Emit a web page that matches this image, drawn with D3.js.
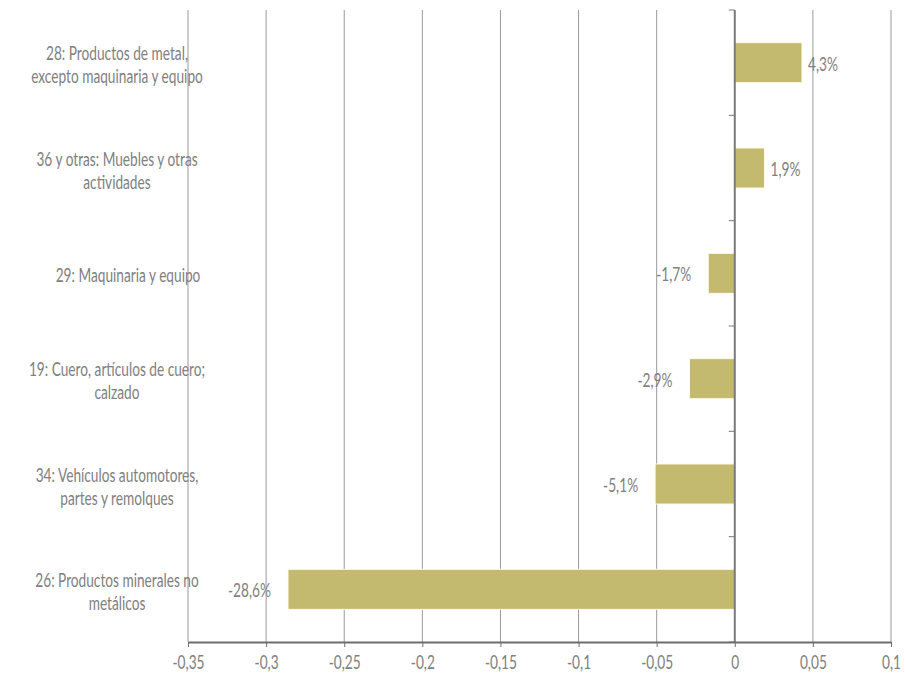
<!DOCTYPE html>
<html><head><meta charset="utf-8">
<script src="https://cdn.jsdelivr.net/npm/d3@7"></script>
<style>
body{margin:0;background:#fff}
text{font-family:"Lato","Roboto",sans-serif;font-weight:400;fill:#808080}
</style>
</head><body>
<svg id="c" width="905" height="677"></svg>
<script>
const labelLines = [
  ["28: Productos de metal,", "excepto maquinaria y equipo"],
  ["36 y otras: Muebles y otras", "actividades"],
  ["29: Maquinaria y equipo"],
  ["19: Cuero, artículos de cuero;", "calzado"],
  ["34: Vehículos automotores,", "partes y remolques"],
  ["26: Productos minerales no", "metálicos"]
];
const categories = labelLines.map(l => l.join(" "));
const values = [0.043, 0.019, -0.017, -0.029, -0.051, -0.286];
const valueLabels = ["4,3%", "1,9%", "-1,7%", "-2,9%", "-5,1%", "-28,6%"];
const xTicks = [-0.35, -0.3, -0.25, -0.2, -0.15, -0.1, -0.05, 0, 0.05, 0.1];
const xTickLabels = ["-0,35", "-0,3", "-0,25", "-0,2", "-0,15", "-0,1", "-0,05", "0", "0,05", "0,1"];

const FS = 19, SX = 0.72;
const svg = d3.select("#c");
const plotTop = 10, plotBottom = 642;
const x = d3.scaleLinear().domain([-0.35, 0.1]).range([188, 891]);
const y = d3.scaleBand().domain(categories).range([plotTop, plotBottom]).paddingInner(0.62).paddingOuter(0.31);

// gridlines
svg.append("g").selectAll("line").data(xTicks.filter(d => d !== 0)).join("line")
  .attr("x1", d => x(d)).attr("x2", d => x(d))
  .attr("y1", plotTop).attr("y2", plotBottom)
  .attr("stroke", "#9a9a9a").attr("stroke-width", 1);

// bars
svg.append("g").selectAll("rect").data(values).join("rect")
  .attr("x", d => x(Math.min(0, d)))
  .attr("width", d => Math.abs(x(d) - x(0)))
  .attr("y", (d, i) => y(categories[i]))
  .attr("height", y.bandwidth())
  .attr("fill", "#c3b96f")
  .attr("stroke", "#fffbe8").attr("stroke-width", 1);

// zero axis
svg.append("line").attr("x1", x(0)).attr("x2", x(0)).attr("y1", plotTop).attr("y2", plotBottom)
  .attr("stroke", "#7a7a7a").attr("stroke-width", 2);
const step = y.step();
svg.append("g").selectAll("line").data(d3.range(categories.length + 1)).join("line")
  .attr("x1", x(0) - 6).attr("x2", x(0))
  .attr("y1", k => plotTop + k * step).attr("y2", k => plotTop + k * step)
  .attr("stroke", "#7a7a7a").attr("stroke-width", 1);

// bottom axis
const xAxis = svg.append("g").attr("transform", `translate(0,${plotBottom})`)
  .call(d3.axisBottom(x).tickValues(xTicks).tickFormat((d, i) => xTickLabels[i])
    .tickSizeInner(5).tickSizeOuter(0).tickPadding(9));
xAxis.select(".domain").attr("stroke", "#6e6e6e").attr("stroke-width", 2);
xAxis.selectAll(".tick line").attr("stroke", "#6e6e6e");
xAxis.selectAll(".tick text").attr("font-size", FS).attr("font-family", null)
  .attr("transform", `scale(${SX},1)`);

// value labels
svg.append("g").selectAll("text").data(values).join("text")
  .attr("transform", (d, i) => `translate(${d >= 0 ? x(d) + 6 : x(d) - 17},${y(categories[i]) + y.bandwidth() / 2 + 8}) scale(${SX},1)`)
  .attr("text-anchor", d => d >= 0 ? "start" : "end")
  .attr("font-size", FS)
  .text((d, i) => valueLabels[i]);

// category labels
const cl = svg.append("g").selectAll("text").data(labelLines).join("text")
  .attr("text-anchor", "middle").attr("font-size", FS)
  .attr("transform", (lines, i) => `translate(${lines.length > 1 ? 117 : 128},${y(categories[i]) + y.bandwidth() / 2 + 9}) scale(${SX},1)`);
cl.each(function(lines) {
  d3.select(this).selectAll("tspan").data(lines).join("tspan")
    .attr("x", 0)
    .attr("y", (t, j) => (j - (lines.length - 1) / 2) * 23)
    .text(t => t);
});
</script>
</body></html>
